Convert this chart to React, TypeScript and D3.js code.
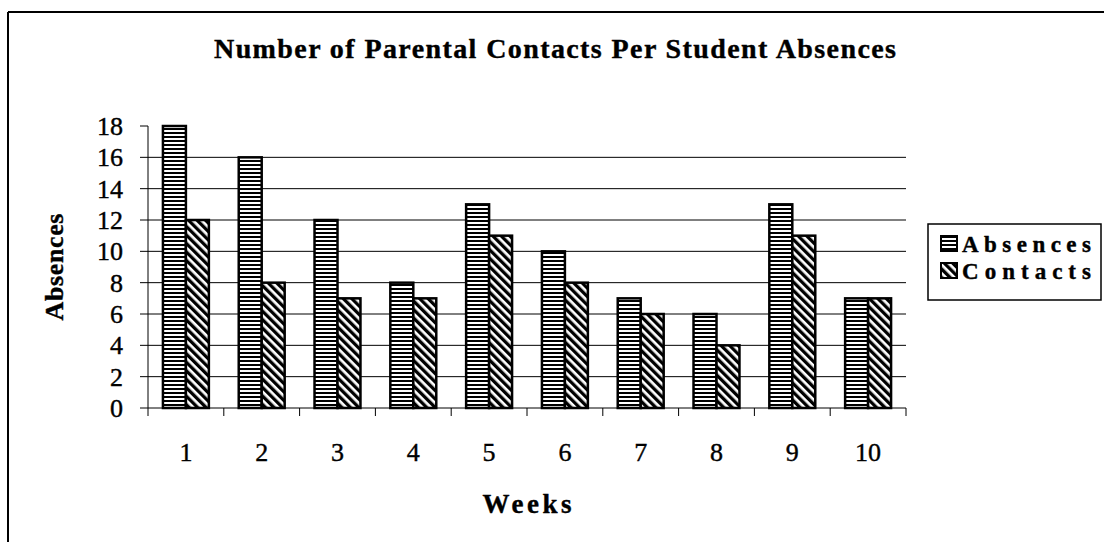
import React from "react";
import * as d3 from "d3";

const weeks = ["1", "2", "3", "4", "5", "6", "7", "8", "9", "10"];
const seriesNames = ["Absences", "Contacts"];
const absences = [18, 16, 12, 8, 13, 10, 7, 6, 13, 7];
const contacts = [12, 8, 7, 7, 11, 8, 6, 4, 11, 7];
const yTicks = [0, 2, 4, 6, 8, 10, 12, 14, 16, 18];
const gridValues = [2, 4, 6, 8, 10, 12, 14, 16];

const W = 1104;
const H = 542;
const FONT = "'Liberation Serif', 'Times New Roman', serif";

export default function App() {
  const x0 = 148, x1 = 906, yTop = 126, yBot = 408;
  const x = d3.scaleBand<string>().domain(weeks).range([x0, x1]).padding(0);
  const xs = d3
    .scaleBand<string>()
    .domain(seriesNames)
    .range([0, x.bandwidth()])
    .paddingInner(0)
    .paddingOuter(0.65);
  const y = d3.scaleLinear().domain([0, 18]).range([yBot, yTop]);
  const data = [absences, contacts];
  const fills = ["url(#hstripes)", "url(#dstripes)"];
  const boundaries = d3.range(weeks.length + 1).map((i) => x0 + i * x.step());

  return (
    <svg
      width={W}
      height={H}
      style={{ position: "absolute", left: 0, top: 0, background: "#fff" }}
      fontFamily={FONT}
    >
      <defs>
        <pattern id="hstripes" width="8" height="4" patternUnits="userSpaceOnUse">
          <rect width="8" height="4" fill="#fff" />
          <rect y="0" width="8" height="2" fill="#000" />
        </pattern>
        <pattern
          id="dstripes"
          width="6"
          height="6"
          patternUnits="userSpaceOnUse"
          patternTransform="rotate(-45)"
        >
          <rect width="6" height="6" fill="#fff" />
          <rect x="0" width="3.3" height="6" fill="#000" />
        </pattern>
      </defs>
      <rect width={W} height={H} fill="#fff" />
      {/* outer frame */}
      <line x1={8} y1={12} x2={W} y2={12} stroke="#000" strokeWidth={2} />
      <line x1={8} y1={12} x2={8} y2={H} stroke="#000" strokeWidth={2} />

      {/* title */}
      <text
        x={555}
        y={58}
        textAnchor="middle"
        fontWeight="bold"
        fontSize={28}
        textLength={682}
        lengthAdjust="spacing"
        stroke="#000"
        strokeWidth={0.4}
      >
        Number of Parental Contacts Per Student Absences
      </text>

      {/* gridlines */}
      {gridValues.map((v) => (
        <line key={v} x1={x0} x2={x1} y1={y(v)} y2={y(v)} stroke="#000" strokeWidth={1} />
      ))}

      {/* y axis */}
      <line x1={x0} x2={x0} y1={yTop} y2={yBot} stroke="#000" strokeWidth={1} />
      {yTicks.map((v) => (
        <g key={v}>
          <line x1={x0 - 8} x2={x0} y1={y(v)} y2={y(v)} stroke="#000" strokeWidth={1} />
          <text
            x={123}
            y={y(v) + 9}
            textAnchor="end"
            fontSize={26}
            stroke="#000"
            strokeWidth={0.4}
          >
            {v}
          </text>
        </g>
      ))}

      {/* x axis */}
      <line x1={x0} x2={x1} y1={yBot} y2={yBot} stroke="#000" strokeWidth={1} />
      {boundaries.map((bx, i) => (
        <line key={i} x1={bx} x2={bx} y1={yBot} y2={yBot + 8} stroke="#000" strokeWidth={1} />
      ))}
      {weeks.map((w) => (
        <text
          key={w}
          x={(x(w) as number) + x.bandwidth() / 2}
          y={461}
          textAnchor="middle"
          fontSize={26}
          stroke="#000"
          strokeWidth={0.4}
        >
          {w}
        </text>
      ))}

      {/* bars */}
      {weeks.map((w, i) => (
        <g key={w}>
          {seriesNames.map((s, si) => {
            const v = data[si][i];
            const bx = (x(w) as number) + (xs(s) as number);
            return (
              <rect
                key={s}
                x={bx}
                y={y(v)}
                width={xs.bandwidth()}
                height={yBot - y(v)}
                fill={fills[si]}
                stroke="#000"
                strokeWidth={2.5}
              />
            );
          })}
        </g>
      ))}

      {/* axis titles */}
      <text
        transform="translate(63,267) rotate(-90)"
        textAnchor="middle"
        fontWeight="bold"
        fontSize={26}
        textLength={107}
        lengthAdjust="spacing"
        stroke="#000"
        strokeWidth={0.4}
      >
        Absences
      </text>
      <text
        x={527}
        y={513}
        textAnchor="middle"
        fontWeight="bold"
        fontSize={27}
        textLength={89}
        lengthAdjust="spacing"
        stroke="#000"
        strokeWidth={0.4}
      >
        Weeks
      </text>

      {/* legend */}
      <rect x={928} y={224} width={173} height={76} fill="#fff" stroke="#000" strokeWidth={1.5} />
      {seriesNames.map((s, si) => (
        <g key={s}>
          <rect
            x={941}
            y={236 + si * 27}
            width={16}
            height={15}
            fill={fills[si]}
            stroke="#000"
            strokeWidth={2}
          />
          <text
            x={962}
            y={252 + si * 27}
            fontWeight="bold"
            fontSize={23}
            textLength={129}
            lengthAdjust="spacing"
            stroke="#000"
            strokeWidth={0.4}
          >
            {s}
          </text>
        </g>
      ))}
    </svg>
  );
}
